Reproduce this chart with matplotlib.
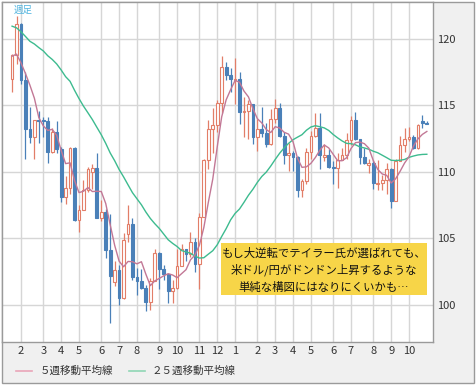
import numpy as np
import pandas as pd
import matplotlib
matplotlib.use('Agg')
import matplotlib.pyplot as plt
from matplotlib.patches import Rectangle
from matplotlib.lines import Line2D

plt.rcParams['font.family'] = ['Noto Sans CJK JP', 'DejaVu Sans']

# weekly USD/JPY, first week starts 2016-01-18
first_week = '2016-01-18'
opens = [117.0, 118.8, 121.1, 116.9, 113.2, 112.6, 113.9, 113.9, 113.8, 111.5,
         113.0, 111.7, 108.1, 108.8, 111.8, 106.4, 107.1, 108.6, 110.0, 110.3,
         106.5, 107.0, 104.1, 101.7, 102.6, 100.5, 105.3, 106.1, 102.1, 101.8,
         101.3, 100.2, 101.8, 103.9, 102.7, 102.3, 101.0, 101.3, 102.9, 104.2,
         103.8, 104.7, 103.1, 106.6, 110.9, 113.2, 113.5, 115.2, 117.9, 117.3,
         116.9, 117.0, 114.5, 114.6, 115.1, 112.6, 113.2, 112.9, 112.1, 114.0,
         114.8, 112.7, 111.3, 111.4, 111.1, 108.6, 109.3, 111.5, 112.7, 113.3,
         111.1, 111.3, 110.4, 110.3, 110.9, 111.3, 112.4, 113.9, 112.5, 111.1,
         110.5, 110.7, 109.1, 109.2, 109.4, 110.2, 107.8, 110.8, 112.0, 112.5,
         112.6, 111.8, 113.8, 113.7]
highs = [118.9, 121.7, 121.2, 117.5, 114.9, 113.9, 114.6, 114.1, 114.1, 113.3,
         113.8, 111.9, 109.7, 111.9, 111.9, 107.5, 109.4, 110.4, 110.6, 111.4,
         107.9, 107.2, 106.8, 103.3, 103.0, 105.4, 107.5, 106.5, 102.8, 102.7,
         101.5, 102.0, 104.2, 104.0, 103.0, 102.3, 101.9, 104.2, 104.6, 104.2,
         105.5, 105.0, 106.9, 111.0, 113.9, 114.8, 115.4, 118.7, 118.3, 117.8,
         118.6, 117.5, 115.6, 115.4, 115.1, 114.0, 114.9, 113.7, 114.7, 115.5,
         115.2, 113.0, 112.2, 111.6, 111.2, 109.5, 111.8, 113.1, 114.4, 114.4,
         112.1, 111.7, 110.8, 111.4, 111.8, 112.9, 114.2, 114.5, 112.5, 111.8,
         111.0, 110.9, 110.9, 109.8, 110.7, 110.3, 111.0, 112.7, 113.3, 113.4,
         112.8, 113.6, 114.3, 113.8]
lows = [116.0, 118.1, 116.6, 111.0, 112.2, 111.0, 112.2, 112.6, 110.7, 111.4,
        111.4, 107.7, 107.6, 108.3, 106.3, 105.5, 107.1, 108.5, 108.7, 106.5,
        106.3, 103.5, 98.6, 101.4, 100.0, 100.4, 104.7, 101.9, 100.7, 101.2,
        99.5, 99.6, 101.8, 101.2, 101.9, 100.1, 100.1, 101.2, 102.9, 103.3,
        103.6, 102.5, 101.2, 106.6, 110.2, 111.4, 113.0, 114.4, 116.9, 116.0,
        115.1, 113.6, 112.6, 112.5, 112.1, 111.6, 112.6, 111.9, 112.0, 113.7,
        112.6, 110.6, 110.1, 110.1, 108.1, 108.1, 109.1, 111.0, 112.6, 110.2,
        110.8, 110.3, 109.1, 108.8, 110.9, 111.0, 112.0, 112.4, 110.6, 110.6,
        109.9, 108.7, 108.6, 108.6, 108.3, 107.3, 107.8, 110.8, 111.5, 112.3,
        111.7, 111.7, 113.3, 113.6]
closes = [118.8, 121.1, 116.9, 113.2, 112.6, 113.9, 113.8, 113.8, 111.5, 113.0,
          111.7, 108.1, 108.8, 111.8, 106.4, 107.1, 108.6, 110.2, 110.3, 106.5,
          107.0, 104.1, 102.2, 102.6, 100.5, 104.9, 106.1, 102.1, 101.8, 101.3,
          100.2, 101.8, 103.9, 102.7, 102.3, 101.0, 101.3, 102.9, 104.2, 103.8,
          104.7, 103.1, 106.6, 110.9, 113.2, 113.5, 115.2, 117.9, 117.3, 117.0,
          117.0, 114.5, 114.6, 115.1, 112.6, 113.2, 112.9, 112.1, 114.0, 114.8,
          112.7, 111.3, 111.4, 111.1, 108.6, 109.3, 111.5, 112.7, 113.3, 111.3,
          111.3, 110.4, 110.3, 110.9, 111.3, 112.4, 113.9, 112.5, 111.1, 110.7,
          110.7, 109.2, 109.2, 109.4, 110.2, 107.8, 110.8, 112.0, 112.5, 112.6,
          111.8, 113.5, 113.7, 113.6]
# closes of the 24 weeks before the window (needed for the 25-week line)
prev_closes = [124.2, 124.3, 122.0, 121.7, 119.0, 120.6, 120.0, 120.6, 119.9, 120.2,
               119.4, 121.4, 120.6, 123.2, 122.6, 122.8, 122.8, 123.1, 120.9, 121.2,
               120.3, 120.2, 117.2, 117.0]

note = ['もし大逆転でテイラー氏が選ばれても、',
        '米ドル/円がドンドン上昇するような',
        '単純な構図にはなりにくいかも…']

up_col = '#e27e68'
dn_col = '#4a80b8'
ma5_col = '#c27896'
ma25_col = '#3dbb8f'

n = len(closes)
x = np.arange(n)
dates = pd.date_range(first_week, periods=n, freq='7D')
allc = pd.Series(prev_closes + closes)
ma5 = allc.rolling(5).mean().values[-n:]
ma25 = allc.rolling(25).mean().values[-n:]

o = np.array(opens); h = np.array(highs); l = np.array(lows); c = np.array(closes)
up = c >= o

fig = plt.figure(figsize=(4.77, 3.85), dpi=100)
fig.patches.append(Rectangle((2/477, 2/385), 472/477, 381/385, transform=fig.transFigure,
                             facecolor='#f0f0f0', edgecolor='#9a9a9a', lw=1, zorder=-1))
ax = fig.add_axes([2/477, 43/385, 431/477, 340/385])
ax.set_facecolor('white')

ax.vlines(x[up], l[up], h[up], color=up_col, lw=0.9, zorder=2)
ax.vlines(x[~up], l[~up], h[~up], color=dn_col, lw=0.9, zorder=2)
body = np.maximum(np.abs(c - o), 0.08)
ax.bar(x[up], body[up], bottom=np.minimum(o, c)[up], width=0.62,
       facecolor='white', edgecolor=up_col, lw=0.8, zorder=3)
ax.bar(x[~up], body[~up], bottom=np.minimum(o, c)[~up], width=0.62,
       facecolor=dn_col, edgecolor=dn_col, lw=0.8, zorder=3)

ax.plot(x, ma25, color=ma25_col, lw=1, zorder=4)
ax.plot(x, ma5, color=ma5_col, lw=1, zorder=4)

# month ticks at first week of each month
mpos = [i for i in range(1, n) if dates[i].month != dates[i - 1].month]
ax.set_xticks(mpos)
ax.set_xticklabels([str(dates[i].month) for i in mpos])
ax.set_yticks([100, 105, 110, 115, 120])
ax.yaxis.tick_right()
ax.tick_params(length=0, labelsize=8, colors='#333333')
ax.tick_params(axis='y', pad=3)
ax.tick_params(axis='x', pad=3)
ax.grid(color='#d6d6d6', lw=1)
ax.set_axisbelow(True)
ax.set_xlim(-2.26, 94.38)
ax.set_ylim(97.2, 122.78)
for s in ax.spines.values():
    s.set_color('#9a9a9a')
    s.set_linewidth(1)

ax.text(0.028, 0.988, '週足', transform=ax.transAxes, fontsize=6.8,
        color='#4db3df', ha='left', va='top')

# comment box
fig.patches.append(Rectangle((221/477, 1 - 295/385), 206/477, 52/385, transform=fig.transFigure,
                             facecolor='#f7d548', edgecolor='none', zorder=5))
fig.text(324/477, 1 - 270/385, '\n'.join(note), ha='center', va='center',
         fontsize=8.2, color='#111111', linespacing=1.55, zorder=6)

# legend
ly = 1 - 371/385
fig.add_artist(Line2D([16/477, 32/477], [ly, ly], color='#e9a5b8', lw=1.2))
fig.text(40/477, ly, '５週移動平均線', fontsize=7.6, color='#333333', va='center')
fig.add_artist(Line2D([129/477, 145/477], [ly, ly], color='#8fd6b4', lw=1.2))
fig.text(152/477, ly, '２５週移動平均線', fontsize=7.6, color='#333333', va='center')

fig.savefig('out.png', dpi=100, facecolor='white')
